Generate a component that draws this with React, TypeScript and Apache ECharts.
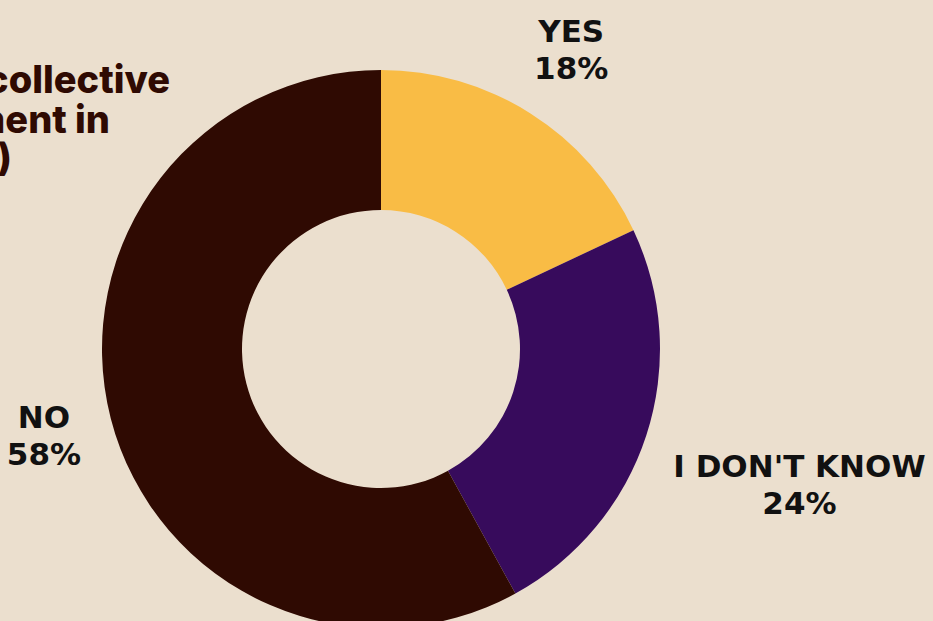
import React, { useEffect, useRef } from "react";
import * as echarts from "echarts";

const categories = ["YES", "I DON'T KNOW", "NO"];
const values = [18, 24, 58];
const sliceColors = ["#F9BC45", "#370B5C", "#2F0A02"];
const labelRadii = [355, 440, 348];
const titleLines = ["Is there a collective", "bargaining agreement in", "your workplace(s)"];

const CX = 381;
const CY = 349;

export default function App() {
  const ref = useRef<HTMLDivElement>(null);
  useEffect(() => {
    document.body.style.margin = "0";
    const chart = echarts.init(ref.current!, null, { renderer: "svg" });
    const total = values.reduce((a, b) => a + b, 0);
    const titleEnds = [170, 110, 12];
    const titleMids = [79, 119, 157];
    chart.setOption({
      animation: false,
      backgroundColor: "#EBDFCE",
      graphic: titleLines.map((t, i) => ({
        type: "text",
        x: titleEnds[i],
        y: titleMids[i],
        silent: true,
        style: {
          text: t,
          fill: "#2F0A02",
          font: "800 38px Inter",
          lineHeight: 36,
          textAlign: "right",
          textVerticalAlign: "middle",
        },
      })),
      series: [
        {
          type: "pie",
          center: [CX, CY],
          radius: [139, 279],
          startAngle: 90,
          clockwise: true,
          silent: true,
          itemStyle: { borderWidth: 0 },
          label: {
            show: true,
            formatter: "{b}\n{c}%",
            color: "#111111",
            fontFamily: "DejaVu Sans",
            fontWeight: "bold",
            fontSize: 31,
            lineHeight: 37,
            align: "center",
            overflow: "none",
          },
          labelLine: { show: false },
          labelLayout: (p: any) => {
            const i = p.dataIndex;
            let before = 0;
            for (let k = 0; k < i; k++) before += values[k];
            const mid = ((before + values[i] / 2) / total) * Math.PI * 2;
            const r = labelRadii[i];
            return {
              x: CX + r * Math.sin(mid),
              y: CY - r * Math.cos(mid),
              align: "center",
              verticalAlign: "middle",
            };
          },
          data: categories.map((c, i) => ({
            name: c,
            value: values[i],
            itemStyle: { color: sliceColors[i] },
          })),
        },
      ],
    });
    return () => chart.dispose();
  }, []);
  return <div ref={ref} style={{ width: 933, height: 621 }} />;
}
